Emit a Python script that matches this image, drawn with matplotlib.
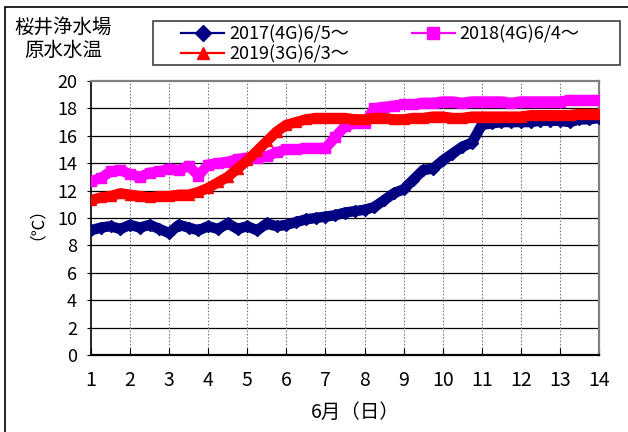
import matplotlib
matplotlib.use("Agg")
import matplotlib.pyplot as plt
from matplotlib.lines import Line2D
from matplotlib.patches import Rectangle

plt.rcParams['font.family'] = ['Noto Sans CJK JP', 'DejaVu Sans']

# Sampling every 6 hours, June 1 .. June 14
days = [1 + i * 0.25 for i in range(53)]

temp_2017 = [9.1, 9.3, 9.4, 9.2, 9.5, 9.3, 9.5, 9.2, 8.9, 9.5, 9.3, 9.1,
             9.4, 9.2, 9.6, 9.2, 9.4, 9.1, 9.6, 9.4, 9.5, 9.7, 9.9, 10.0,
             10.1, 10.2, 10.4, 10.5, 10.6, 10.8, 11.3, 11.8, 12.1, 12.8,
             13.5, 13.6, 14.2, 14.7, 15.2, 15.5, 16.8, 16.9, 17.0, 17.0,
             17.0, 17.0, 17.1, 17.1, 17.1, 17.0, 17.2, 17.2, 17.3]

temp_2018 = [12.7, 12.9, 13.4, 13.5, 13.2, 13.0, 13.3, 13.4, 13.6, 13.5,
             13.8, 13.1, 13.9, 14.0, 14.1, 14.3, 14.4, 14.4, 14.5, 14.8,
             15.0, 15.0, 15.1, 15.1, 15.1, 15.9, 16.7, 16.9, 16.9, 18.0,
             18.1, 18.2, 18.3, 18.3, 18.4, 18.4, 18.5, 18.5, 18.4, 18.5,
             18.5, 18.5, 18.5, 18.4, 18.5, 18.5, 18.5, 18.5, 18.5, 18.6,
             18.6, 18.6, 18.6]

temp_2019 = [11.3, 11.5, 11.6, 11.8, 11.7, 11.6, 11.5, 11.6, 11.6, 11.7,
             11.7, 11.9, 12.2, 12.6, 13.0, 13.6, 14.2, 14.9, 15.6, 16.3,
             16.8, 17.0, 17.2, 17.3, 17.3, 17.3, 17.3, 17.2, 17.2, 17.3,
             17.3, 17.2, 17.2, 17.3, 17.3, 17.4, 17.4, 17.3, 17.3, 17.4,
             17.4, 17.4, 17.4, 17.4, 17.4, 17.5, 17.5, 17.5, 17.5, 17.5,
             17.6, 17.6, 17.6]

labels = ['2017(4G)6/5～', '2018(4G)6/4～', '2019(3G)6/3～']
colors = ['#000080', '#FF00FF', '#FF0000']
markers = ['D', 's', '^']

x_ticks = list(range(1, 15))
y_ticks = list(range(0, 21, 2))

W, H = 628, 432
fig = plt.figure(figsize=(W / 100, H / 100), dpi=100)
ax = fig.add_axes([91 / W, 77 / H, 508 / W, 274 / H])

series = [temp_2017, temp_2018, temp_2019]
for vals, c, m in zip(series, colors, markers):
    ax.plot(days, vals, color=c, lw=7.5, marker=m, ms=6.5, mec=c, mfc=c,
            solid_joinstyle='round', solid_capstyle='butt', zorder=3)

ax.set_xlim(1, 14)
ax.set_ylim(0, 20)
ax.set_xticks(x_ticks)
ax.set_yticks(y_ticks)
ax.tick_params(axis='x', direction='in', length=5, pad=11, labelsize=14)
ax.tick_params(axis='y', direction='out', length=3, pad=7, labelsize=13)

for y in y_ticks[1:-1]:
    ax.axhline(y, color='black', lw=0.9, zorder=1)
for x in x_ticks[1:-1]:
    ax.axvline(x, color='#808080', lw=0.8, ls=(0, (1.5, 1.5)), zorder=1)

ax.spines['left'].set_color('black')
ax.spines['bottom'].set_color('black')
ax.spines['bottom'].set_linewidth(1.6)
ax.spines['left'].set_linewidth(1.2)
for side in ('top', 'right'):
    ax.spines[side].set_color('#808080')
    ax.spines[side].set_linewidth(1.6)

# Axis titles
fig.text(355 / W, 1 - 412 / H, '6月（日）', ha='center', va='center', fontsize=14)
fig.text(28 / W, 1 - 215 / H, '（℃）', ha='center', va='center', fontsize=12,
         rotation=90)

# Chart title in the upper-left corner
fig.text(63 / W, 1 - 27 / H, '桜井浄水場', ha='center', va='center', fontsize=14)
fig.text(63 / W, 1 - 50 / H, '原水水温', ha='center', va='center', fontsize=14)

# Outer frame
fig.patches.append(Rectangle((5 / W, -0.1), 1.2, 1 - 7 / H + 0.1,
                             transform=fig.transFigure, fill=False,
                             ec='black', lw=1.2))

# Legend box
fig.patches.append(Rectangle((153 / W, 1 - 65 / H), 467 / W, 44 / H,
                             transform=fig.transFigure, fill=False,
                             ec='#404040', lw=1.2))

handles = [Line2D([], [], color=c, lw=1.6, marker=m, ms=8.5, mec=c, mfc=c)
           for c, m in zip(colors, markers)]
order = [0, 2, 1]
leg = fig.legend([handles[i] for i in order], [labels[i] for i in order],
                 ncol=2, loc='upper left',
                 bbox_to_anchor=(181 / W, 1 - 25 / H),
                 frameon=False, fontsize=13,
                 handlelength=2.4, handletextpad=0.25, columnspacing=3.5,
                 borderpad=0, labelspacing=0.12, borderaxespad=0)

fig.savefig('out.png', dpi=100)
